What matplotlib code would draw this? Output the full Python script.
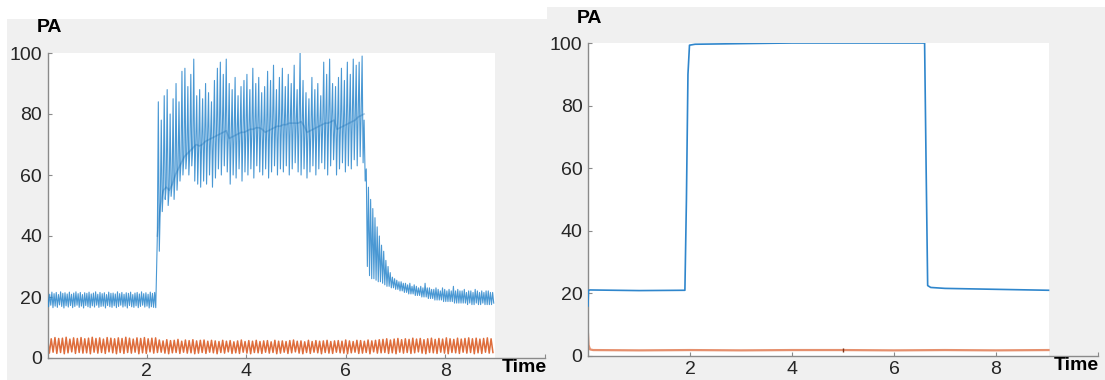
import matplotlib.pyplot as plt
from matplotlib.patches import Rectangle
import numpy as np

W, H = 1105, 380

# ---- left panel: PA signal, blue ----
# resting part 0 .. 2.2 (peaks / troughs)
rest_hi = [21.3, 20.9, 21.6, 21.1, 21.5, 20.8, 21.7, 21.2, 21.4, 21.0,
           21.6, 20.9, 21.3, 21.7, 21.1, 21.5, 20.8, 21.4, 21.2, 21.6,
           21.0, 21.3, 21.7, 20.9, 21.5, 21.1, 21.4, 20.8, 21.6, 21.2,
           21.3, 21.0, 21.7, 21.1, 21.5, 20.9, 21.4, 21.2, 21.6, 20.8,
           21.3, 21.5, 21.0, 21.7, 21.1, 21.4, 20.9, 21.6, 21.2, 21.5]
rest_lo = [16.8, 17.3, 16.5, 17.0, 16.6, 17.4, 16.9, 16.4, 17.1, 16.7,
           17.2, 16.5, 16.9, 17.3, 16.6, 17.0, 16.4, 17.2, 16.8, 16.5,
           17.1, 16.7, 17.3, 16.6, 16.9, 17.0, 16.4, 17.2, 16.8, 16.6,
           17.1, 16.5, 16.9, 17.3, 16.7, 17.0, 16.4, 17.2, 16.8, 16.6,
           17.1, 16.5, 16.9, 17.3, 16.7, 17.0, 16.4, 16.8, 16.6, 16.5]

# active part 2.22 .. 6.37 (baseline, spike tops, dips per cycle)
act_base = [40, 50, 55, 56, 55, 57, 60, 62, 64, 66,
            67, 68, 69, 70, 69.5, 70, 71, 71.5, 72, 72.5,
            73, 73.5, 74, 74.5, 72, 72.5, 73, 73.5, 74, 74,
            74.5, 75, 75, 75.5, 75.5, 75, 74, 74.5, 75, 75.5,
            76, 76, 76.5, 76.5, 77, 77, 77, 77, 77.5, 76,
            74, 74.5, 75, 75.5, 76, 76.5, 77, 77, 77.5, 78,
            75, 75.5, 76, 76.5, 77, 77.5, 78, 79, 79.5, 80]
act_peak = [84, 78, 86, 88, 80, 85, 90, 84, 94, 95,
            89, 93, 98, 86, 88, 85, 90, 87, 84, 91,
            95, 97, 93, 98, 90, 88, 92, 86, 89, 91,
            93, 88, 95, 90, 92, 87, 89, 94, 91, 96,
            88, 92, 95, 89, 93, 90, 96, 88, 100, 91,
            87, 85, 92, 88, 90, 86, 97, 93, 98, 90,
            89, 92, 95, 91, 97, 93, 98, 96, 97, 99]
act_dip = [35, 48, 52, 50, 53, 52, 55, 58, 60, 62,
           60, 63, 58, 57, 56, 58, 57, 60, 56, 59,
           62, 60, 63, 61, 57, 60, 59, 62, 58, 61,
           60, 62, 59, 63, 61, 60, 62, 59, 61, 63,
           60, 62, 61, 63, 60, 62, 64, 61, 60, 62,
           59, 61, 63, 60, 62, 64, 62, 60, 63, 65,
           60, 62, 64, 61, 63, 62, 65, 63, 66, 64]

# recovery part 6.37 .. 9.0
rec_hi = [78, 62, 56, 52, 49, 46, 43, 40, 37, 35,
          32, 30, 28, 26.5, 26, 25.5, 25, 25, 24.5, 24.5,
          24, 24.5, 23.5, 24, 23.5, 23, 23.5, 23, 24.5, 23,
          23, 22.5, 22.5, 23, 22.5, 22, 23, 22.5, 22, 22.5,
          22, 23.5, 22, 22.5, 22, 22, 22.5, 21.5, 22, 22,
          21.5, 22.5, 22, 21.5, 22, 21.5, 22, 22, 21.5, 21.5]
rec_lo = [58, 30, 27, 26, 26, 25.5, 25, 25, 24.5, 24,
          23.5, 23.5, 23, 23, 22.5, 22.5, 22, 22, 21.5, 21.5,
          21, 21, 21, 20.5, 20.5, 20.5, 20, 20, 20, 19.5,
          19.5, 19.5, 19, 19, 19, 19, 18.5, 18.5, 18.5, 18.5,
          18.5, 18, 18, 18, 18, 18, 18, 17.5, 18, 17.5,
          17.5, 18, 17.5, 17.5, 18, 17.5, 17.5, 17.5, 17.5, 18]

# ---- left panel: second signal, orange ----
orange_hi = [6.6, 6.3, 6.7, 6.4, 6.5, 6.8, 6.2, 6.6, 6.4, 6.7,
             6.3, 6.5, 6.8, 6.4, 6.6, 6.2, 6.7, 6.5, 6.3, 6.6,
             6.4, 6.8, 6.5, 6.2, 6.6, 6.4, 6.7, 6.3, 6.5, 6.6,
             5.9, 5.6, 6.0, 5.7, 5.8, 6.1, 5.5, 5.9, 5.7, 6.0,
             5.6, 5.8, 5.9, 5.5, 5.8, 5.6, 5.4, 5.8, 5.5, 5.7,
             5.3, 5.6, 5.9, 5.4, 5.7, 5.5, 5.8, 5.4, 5.6, 5.7,
             5.3, 5.8, 5.5, 5.6, 5.4, 5.7, 5.9, 5.5, 5.6, 5.3,
             5.8, 5.4, 5.7, 5.5, 5.6, 5.8, 5.4, 5.6, 5.7, 5.5,
             5.9, 5.6, 5.4, 5.8, 5.7, 5.5, 5.9, 5.6, 5.8, 6.0,
             6.1, 6.3, 5.9, 6.2, 6.4, 6.0, 6.3, 6.1, 6.5, 6.2,
             6.4, 6.0, 6.3, 6.5, 6.1, 6.4, 6.2, 6.6, 6.3, 6.1,
             6.5, 6.2, 6.4, 6.6, 6.3, 6.5, 6.2, 6.4, 6.6, 6.3]
orange_lo = [1.6, 1.9, 1.5, 1.8, 1.4, 1.7, 2.0, 1.5, 1.8, 1.6,
             1.7, 1.4, 1.9, 1.6, 1.8, 1.5, 2.0, 1.7, 1.4, 1.8,
             1.5, 1.8, 1.6, 1.9, 1.4, 1.7, 1.5, 2.0, 1.6, 1.8,
             1.9, 1.6, 1.4, 1.7, 1.8, 1.5, 1.9, 1.6, 1.7, 1.4,
             1.6, 1.8, 1.5, 1.9, 1.7, 1.4, 1.8, 1.6, 2.0, 1.5,
             1.7, 1.5, 1.9, 1.6, 1.4, 1.8, 1.7, 1.5, 1.9, 1.6,
             1.8, 1.4, 1.6, 1.9, 1.5, 1.7, 2.0, 1.6, 1.4, 1.8,
             1.5, 1.9, 1.7, 1.4, 1.8, 1.6, 1.5, 1.9, 1.7, 1.6,
             1.4, 1.7, 1.9, 1.5, 1.6, 1.8, 1.4, 2.0, 1.6, 1.7,
             1.8, 1.5, 1.7, 1.4, 1.9, 1.6, 1.8, 1.5, 1.7, 2.0,
             1.6, 1.4, 1.8, 1.7, 1.5, 1.9, 1.6, 1.4, 1.8, 1.7,
             1.5, 1.9, 1.6, 1.8, 1.4, 1.7, 1.5, 1.9, 1.6, 1.8]

# ---- right panel ----
r_blue_t = [0, 0.01, 0.04, 1.0, 1.90, 1.93, 1.96, 1.99, 2.1, 3, 4, 5, 6, 6.60, 6.63, 6.66, 6.72, 7, 8, 9.03]
r_blue = [16, 21, 21.1, 20.9, 21, 50, 90, 99.3, 99.6, 99.8, 100, 100, 100, 100, 60, 22.5, 21.9, 21.6, 21.3, 21.0]
r_orange_t = [0, 0.01, 0.04, 0.1, 1, 2, 3, 4, 5, 6, 7, 8, 9.03]
r_orange = [7, 3.5, 2.1, 1.9, 1.8, 1.9, 1.8, 1.9, 1.9, 1.8, 1.9, 1.8, 1.9]
r_mark_t = [5.0]
r_mark_lo = [1.4]
r_mark_hi = [2.6]

xticks = [2, 4, 6, 8, 10]
xtick_labels = ['2', '4', '6', '8', '']
yticks = [0, 20, 40, 60, 80, 100]

ORANGE = '#D95319'
GREY_BG = '#f0f0f0'
TXT = '#262626'


def zigzag(t0, t1, *series):
    # merge several value lists into one line, ordered by their sample times
    n = len(series)
    ts, vs = [], []
    for i, s in enumerate(series):
        step = (t1 - t0) / len(s)
        ts.append(t0 + step * (np.arange(len(s)) + i / n))
        vs.append(np.asarray(s, float))
    ts = np.concatenate(ts)
    vs = np.concatenate(vs)
    order = np.argsort(ts, kind='stable')
    return ts[order], vs[order]


def fig_rect(x0, y0, x1, y1):
    return [x0 / W, 1 - y1 / H, (x1 - x0) / W, (y1 - y0) / H]


def style_axes(ax, white_right):
    ax.set_xlim(0, 10)
    ax.set_ylim(0, 100)
    ax.patch.set_visible(False)
    ax.add_patch(Rectangle((0, 0), white_right, 100, facecolor='white',
                           edgecolor='none', zorder=0))
    for s in ['top', 'right']:
        ax.spines[s].set_visible(False)
    for s in ['left', 'bottom']:
        ax.spines[s].set_color('#8a8a8a')
        ax.spines[s].set_linewidth(1.0)
    ax.set_xticks(xticks)
    ax.set_xticklabels(xtick_labels)
    ax.set_yticks(yticks)
    ax.tick_params(direction='in', length=3, width=0.8, color='#8a8a8a',
                   labelsize=14, labelcolor=TXT)
    ax.tick_params(axis='x', pad=3.5)
    ax.tick_params(axis='y', pad=4)


plt.rcParams['font.family'] = ['Liberation Sans', 'DejaVu Sans']
fig = plt.figure(figsize=(W / 100, H / 100), dpi=100)

# grey panel backgrounds
fig.add_artist(Rectangle((7 / W, 0), 540 / W, 361 / H, transform=fig.transFigure,
                         facecolor=GREY_BG, edgecolor='none', zorder=-10))
fig.add_artist(Rectangle((547 / W, 0), 558 / W, 373 / H, transform=fig.transFigure,
                         facecolor=GREY_BG, edgecolor='none', zorder=-10))

# left panel
ax1 = fig.add_axes(fig_rect(47.5, 53, 544.5, 358))
style_axes(ax1, 9.0)
t_a, v_a = zigzag(0, 2.2, rest_hi, rest_lo)
t_b, v_b = zigzag(2.21, 6.37, act_base, act_peak, act_dip)
t_c, v_c = zigzag(6.37, 9.0, rec_hi, rec_lo)
ax1.plot(np.concatenate([t_a, t_b, t_c]), np.concatenate([v_a, v_b, v_c]),
         color='#2a86cc', lw=0.8, alpha=0.85, zorder=3)
# faint darker ridge where the active signal keeps returning to its baseline
t_base = np.linspace(2.21, 6.37, len(act_base))
ax1.plot(t_base, act_base, color='#0a66b0', lw=1.2, alpha=0.3, zorder=4)
t_o, v_o = zigzag(0, 9.0, orange_hi, orange_lo)
ax1.plot(t_o, v_o, color=ORANGE, lw=1.1, alpha=0.85, zorder=2)

# right panel
ax2 = fig.add_axes(fig_rect(588, 43, 1098, 356))
style_axes(ax2, 9.03)
ax2.plot(r_blue_t, r_blue, color='#2f86cc', lw=1.2, zorder=3)
ax2.plot(r_orange_t, r_orange, color='#e3845e', lw=1.6, alpha=0.9, zorder=2)
ax2.vlines(r_mark_t, r_mark_lo, r_mark_hi, color='#7a3418', lw=1.0, zorder=4)

# axis labels placed like the original screenshots
fig.text(49.5 / W, 1 - 27.7 / H, 'PA', fontsize=14, fontweight='bold',
         ha='center', va='center', color='black')
fig.text(589.5 / W, 1 - 18.5 / H, 'PA', fontsize=14, fontweight='bold',
         ha='center', va='center', color='black')
fig.text(524 / W, 1 - 367 / H, 'Time', fontsize=14, fontweight='bold',
         ha='center', va='center', color='black')
fig.text(1076 / W, 1 - 366 / H, 'Time', fontsize=14, fontweight='bold',
         ha='center', va='center', color='black')

fig.savefig('out.png', dpi=100, facecolor='white')
